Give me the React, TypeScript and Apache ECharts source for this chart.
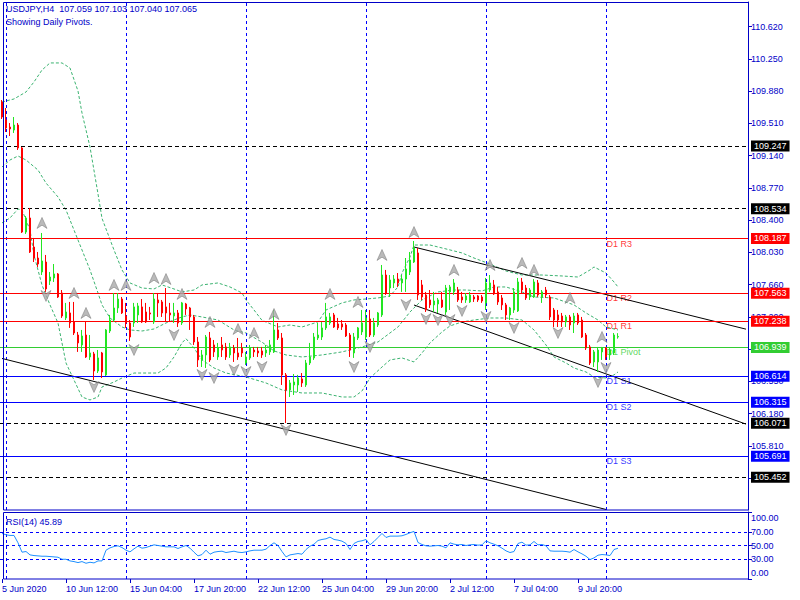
import React, { useEffect, useRef } from 'react';
import * as echarts from 'echarts';

// ---------------- data ----------------
const symbolName = 'USDJPY';
const timeframe = 'H4';

// [open, close, low, high] per H4 bar
const ohlc: number[][] = [
  [109.754, 109.582, 109.559, 109.777], [109.548, 109.456, 109.410, 109.685], [109.467, 109.445, 109.364, 109.513],
  [109.433, 109.490, 109.399, 109.582], [109.490, 109.227, 109.204, 109.513], [109.227, 108.263, 108.252, 109.238],
  [108.263, 108.424, 108.241, 108.447], [108.424, 108.034, 108.023, 108.539], [108.091, 107.965, 107.919, 108.195],
  [107.965, 107.896, 107.862, 108.034], [107.805, 107.931, 107.770, 108.252], [107.919, 107.610, 107.576, 108.000],
  [107.702, 107.747, 107.656, 107.805], [107.736, 107.782, 107.690, 107.896], [107.782, 107.518, 107.507, 107.793],
  [107.564, 107.300, 107.278, 107.598], [107.278, 107.346, 107.254, 107.450], [107.335, 107.220, 107.163, 107.461],
  [107.232, 107.105, 107.082, 107.461], [107.082, 106.991, 106.888, 107.117], [106.968, 107.071, 106.888, 107.140],
  [107.082, 106.830, 106.819, 107.232], [106.830, 106.876, 106.796, 107.082], [106.865, 106.669, 106.566, 106.888],
  [106.669, 106.819, 106.646, 106.910], [106.876, 106.658, 106.589, 106.888], [106.624, 107.140, 106.612, 107.151],
  [107.128, 107.254, 107.105, 107.312], [107.254, 107.392, 107.232, 107.564], [107.392, 107.495, 107.335, 107.564],
  [107.495, 107.335, 107.323, 107.518], [107.300, 107.220, 107.163, 107.450], [107.220, 107.059, 107.014, 107.254],
  [107.220, 107.404, 107.174, 107.450], [107.312, 107.415, 107.220, 107.450], [107.404, 107.232, 107.220, 107.495],
  [107.346, 107.232, 107.220, 107.450], [107.335, 107.323, 107.254, 107.404], [107.232, 107.495, 107.209, 107.564],
  [107.484, 107.450, 107.289, 107.564], [107.461, 107.335, 107.289, 107.484], [107.404, 107.335, 107.232, 107.621],
  [107.335, 107.312, 107.232, 107.450], [107.300, 107.335, 107.220, 107.450], [107.335, 107.220, 107.174, 107.369],
  [107.220, 107.450, 107.197, 107.461], [107.438, 107.381, 107.312, 107.450], [107.392, 107.289, 107.140, 107.404],
  [107.289, 107.002, 106.968, 107.312], [107.002, 106.796, 106.715, 107.059], [106.796, 106.853, 106.715, 106.910],
  [106.853, 107.059, 106.704, 107.082], [107.048, 106.796, 106.773, 107.117], [106.968, 106.888, 106.830, 107.025],
  [106.830, 106.933, 106.796, 106.991], [106.968, 106.910, 106.830, 107.059], [106.945, 106.830, 106.796, 106.991],
  [106.853, 106.945, 106.819, 106.991], [106.933, 106.876, 106.773, 106.968], [106.876, 106.830, 106.796, 107.048],
  [106.933, 106.876, 106.830, 106.991], [106.761, 106.830, 106.738, 106.888], [106.819, 106.933, 106.796, 106.968],
  [106.910, 106.888, 106.830, 106.945], [106.899, 106.876, 106.830, 106.945], [106.899, 106.853, 106.819, 106.945],
  [106.876, 106.910, 106.830, 106.968], [106.888, 106.968, 106.853, 107.025], [106.888, 107.140, 106.876, 107.369],
  [107.140, 107.048, 107.025, 107.220], [107.048, 106.624, 106.509, 107.105], [106.624, 106.452, 106.073, 106.646],
  [106.452, 106.532, 106.371, 106.566], [106.509, 106.543, 106.394, 106.635], [106.509, 106.589, 106.429, 106.624],
  [106.578, 106.532, 106.486, 106.646], [106.509, 106.761, 106.486, 106.796], [106.761, 106.830, 106.738, 106.991],
  [106.819, 107.059, 106.796, 107.105], [107.048, 107.082, 107.025, 107.220], [107.059, 107.163, 107.025, 107.232],
  [107.163, 107.289, 107.140, 107.450], [107.220, 107.289, 107.197, 107.335], [107.312, 107.174, 107.163, 107.335],
  [107.209, 107.163, 107.140, 107.278], [107.209, 107.174, 107.140, 107.254], [107.197, 107.071, 107.059, 107.220],
  [107.082, 106.910, 106.830, 107.105], [106.876, 107.059, 106.819, 107.105], [107.048, 107.163, 107.025, 107.174],
  [107.117, 107.220, 107.082, 107.369], [107.059, 107.278, 107.025, 107.369], [107.266, 107.082, 107.059, 107.369],
  [107.082, 107.220, 107.059, 107.278], [107.197, 107.335, 107.174, 107.346], [107.312, 107.770, 107.289, 107.885],
  [107.770, 107.564, 107.541, 107.828], [107.621, 107.713, 107.518, 107.770], [107.679, 107.724, 107.621, 107.770],
  [107.724, 107.679, 107.633, 107.793], [107.679, 107.724, 107.576, 107.770], [107.724, 107.839, 107.576, 107.965],
  [107.805, 107.942, 107.770, 108.034], [107.919, 108.080, 107.908, 108.160], [108.023, 107.541, 107.484, 108.080],
  [107.656, 107.518, 107.484, 107.713], [107.541, 107.369, 107.346, 107.576], [107.484, 107.427, 107.392, 107.598],
  [107.427, 107.472, 107.346, 107.576], [107.438, 107.484, 107.335, 107.507], [107.484, 107.404, 107.392, 107.576],
  [107.346, 107.621, 107.312, 107.656], [107.576, 107.633, 107.369, 107.656], [107.576, 107.679, 107.541, 107.724],
  [107.598, 107.484, 107.461, 107.633], [107.518, 107.484, 107.450, 107.576], [107.484, 107.530, 107.450, 107.564],
  [107.461, 107.541, 107.450, 107.576], [107.518, 107.495, 107.461, 107.541], [107.530, 107.484, 107.461, 107.541],
  [107.518, 107.472, 107.450, 107.541], [107.450, 107.679, 107.369, 107.736], [107.598, 107.679, 107.576, 107.770],
  [107.656, 107.553, 107.541, 107.713], [107.576, 107.461, 107.427, 107.633], [107.507, 107.427, 107.369, 107.541],
  [107.427, 107.312, 107.254, 107.450], [107.312, 107.392, 107.254, 107.404], [107.369, 107.576, 107.335, 107.621],
  [107.358, 107.690, 107.346, 107.736], [107.690, 107.598, 107.564, 107.736], [107.621, 107.507, 107.484, 107.656],
  [107.518, 107.598, 107.484, 107.621], [107.518, 107.690, 107.507, 107.724], [107.679, 107.541, 107.518, 107.713],
  [107.518, 107.576, 107.450, 107.598], [107.598, 107.541, 107.507, 107.633], [107.518, 107.289, 107.254, 107.541],
  [107.369, 107.254, 107.174, 107.392], [107.312, 107.254, 107.174, 107.369], [107.300, 107.232, 107.174, 107.335],
  [107.232, 107.289, 107.174, 107.312], [107.289, 107.197, 107.140, 107.312], [107.220, 107.300, 107.105, 107.335],
  [107.312, 107.220, 107.197, 107.335], [107.254, 107.059, 107.048, 107.289], [107.082, 106.933, 106.910, 107.105],
  [106.945, 106.761, 106.738, 106.968], [106.773, 106.888, 106.715, 106.910], [106.773, 106.910, 106.658, 106.945],
  [106.888, 106.933, 106.796, 106.945], [106.933, 106.830, 106.796, 106.945], [106.853, 106.910, 106.796, 106.945],
  [106.876, 107.082, 106.853, 107.105], [107.059, 107.065, 107.040, 107.103],
];

const rsiValues: number[] = [
  68, 66, 65, 65, 54, 40, 41, 36, 35, 34.5,
  34, 34, 33.5, 33, 32.5, 29.5, 29.5, 27, 26, 24.5,
  26, 23.5, 25, 24, 27, 27, 43, 46.5, 48.5, 49.5,
  47, 43, 40.5, 45, 49, 46, 47, 49, 51, 50,
  49, 48, 48, 48, 45.5, 48, 50, 46, 40, 34.5,
  36.5, 43, 37, 40, 41, 41.5, 39.5, 40.5, 41.5, 40,
  39.5, 40.5, 42, 43, 43, 43, 44.5, 50, 54, 50,
  41, 33, 36, 37, 38, 37, 44, 49, 52, 57.5,
  59, 60, 62.5, 59, 58, 56.5, 53, 44, 53, 56,
  57, 59, 51, 56, 62, 68, 62, 64, 64, 64,
  64.5, 66.5, 69, 71, 54.5, 51.5, 49.5, 49, 49.5, 50,
  49, 46.5, 54, 52, 51, 51.5, 50, 51, 51.5, 50.5,
  51, 57, 54, 52, 49.5, 46, 42, 39.5, 41, 53,
  55, 50.5, 51, 56, 51, 51.5, 49.5, 42, 41.5, 41.5,
  41.5, 41, 40, 44, 40.5, 37.5, 34, 29, 31.5, 35.5,
  36.5, 36, 35, 44, 45.89,
];

// Bollinger bands: [bar index, price]
const upperBand: number[][] = [
  [0, 109.754], [3, 109.789], [6, 109.869], [8, 109.984], [10, 110.121], [12, 110.202], [15, 110.202],
  [17, 110.144], [19, 109.880], [20, 109.628], [22, 109.238], [24, 108.700], [25, 108.420], [28, 108.057],
  [30, 107.828], [32, 107.679], [35, 107.621], [38, 107.610], [40, 107.656], [43, 107.610], [45, 107.576],
  [48, 107.598], [50, 107.656], [54, 107.679], [57, 107.633], [60, 107.564], [61, 107.484], [63, 107.369],
  [65, 107.250], [69, 107.174], [72, 107.197], [75, 107.174], [79, 107.232], [81, 107.369], [85, 107.450],
  [88, 107.484], [91, 107.495], [94, 107.507], [97, 107.530], [99, 107.633], [100, 107.793], [102, 107.977],
  [103, 108.114], [107, 108.114], [111, 108.069], [115, 108.023], [118, 107.965], [122, 107.896],
  [126, 107.816], [130, 107.770], [135, 107.770], [140, 107.759], [144, 107.747], [147, 107.828],
  [148, 107.862], [151, 107.793], [153, 107.690], [154, 107.633],
];
const middleBand: number[][] = [
  [0, 109.009], [2, 109.089], [4, 109.135], [6, 109.089], [9, 108.974], [11, 108.825], [14, 108.665],
  [16, 108.516], [18, 108.286], [20, 108.057], [22, 107.828], [24, 107.564], [25, 107.427], [27, 107.277],
  [30, 107.174], [32, 107.140], [35, 107.128], [38, 107.151], [41, 107.220], [45, 107.289], [47, 107.312],
  [50, 107.289], [54, 107.254], [56, 107.197], [58, 107.140], [61, 107.105], [65, 107.000], [68, 106.900],
  [71, 106.853], [75, 106.830], [80, 106.853], [85, 106.888], [90, 106.945], [94, 107.002], [99, 107.174],
  [102, 107.346], [105, 107.484], [109, 107.576], [113, 107.598], [116, 107.598], [120, 107.587],
  [123, 107.633], [126, 107.633], [130, 107.576], [133, 107.518], [138, 107.507], [143, 107.427],
  [146, 107.335], [149, 107.254], [151, 107.174], [154, 107.140],
];
const lowerBand: number[][] = [
  [0, 108.367], [2, 108.424], [4, 108.527], [5, 108.516], [7, 108.286], [8, 108.000], [10, 107.655],
  [12, 107.427], [14, 107.220], [15, 106.991], [16, 106.761], [18, 106.566], [20, 106.371], [22, 106.337],
  [24, 106.371], [25, 106.486], [28, 106.543], [30, 106.589], [33, 106.646], [35, 106.646], [39, 106.646],
  [41, 106.704], [43, 106.830], [45, 106.991], [46, 107.040], [48, 106.933], [50, 106.796], [53, 106.704],
  [56, 106.646], [61, 106.601], [66, 106.532], [70, 106.452], [75, 106.417], [80, 106.417], [85, 106.371],
  [88, 106.371], [90, 106.440], [92, 106.589], [95, 106.715], [97, 106.796], [100, 106.819], [103, 106.773],
  [105, 106.876], [107, 106.991], [110, 107.117], [112, 107.186], [115, 107.232], [118, 107.254],
  [122, 107.277], [126, 107.277], [130, 107.254], [133, 107.140], [136, 106.968], [138, 106.830],
  [141, 106.761], [143, 106.704], [146, 106.658], [148, 106.601], [151, 106.589], [153, 106.624], [154, 106.658],
];

// Fractal arrows: [bar index, price of the arrow]
const fractalsUp: number[][] = [
  [10, 108.367], [18, 107.564], [21, 107.335], [28, 107.656], [31, 107.656], [38, 107.736], [41, 107.724],
  [45, 107.553], [52, 107.232], [59, 107.151], [63, 107.105], [68, 107.323], [82, 107.553], [89, 107.461],
  [95, 108.000], [103, 108.263], [113, 107.828], [122, 107.885], [130, 107.908], [133, 107.828],
  [142, 107.507], [150, 107.059],
];
const fractalsDown: number[][] = [
  [11, 107.530], [23, 106.486], [33, 106.910], [43, 107.082], [50, 106.624], [53, 106.589], [58, 106.681],
  [61, 106.658], [65, 106.715], [71, 105.993], [88, 106.715], [92, 106.945], [101, 107.427], [106, 107.266],
  [109, 107.254], [112, 107.254], [115, 107.358], [121, 107.289], [128, 107.163], [139, 107.105],
  [149, 106.543], [151, 106.704],
];

const pivotLevels = [108.187, 107.563, 107.238, 106.939, 106.614, 106.315, 105.691];
const pivotNames = ['D1 R3', 'D1 R2', 'D1 R1', 'D1 Pivot', 'D1 S1', 'D1 S2', 'D1 S3'];
const pivotDayStart = 151;
const dashedLevels = [109.247, 108.534, 106.071, 105.452];

// trend lines: pairs of [bar index, price]
const trendLines: number[][][] = [
  [[0, 106.813], [151, 105.081]],
  [[103, 108.091], [186, 107.149]],
  [[103, 107.426], [186, 106.060]],
];

// price scale ticks (every 0.370); labels hidden in the reference behind the level boxes are left out
const priceTicks = [105.440, 105.810, 106.180, 106.550, 106.920, 107.290, 107.660, 108.030, 108.400, 108.770, 109.140, 109.510, 109.880, 110.250, 110.620];
const priceTickLabels = [105.810, 106.180, 106.550, 107.290, 107.660, 108.030, 108.400, 108.770, 109.140, 109.510, 109.880, 110.250, 110.620];
const priceMin = 105.075;
const priceMax = 110.901;
const rsiTicks = [0, 30, 50, 70, 100];
const rsiLevels = [30, 50, 70];
const timeLabels = ['5 Jun 2020', '10 Jun 12:00', '15 Jun 04:00', '17 Jun 20:00', '22 Jun 12:00', '25 Jun 04:00', '29 Jun 20:00', '2 Jul 12:00', '7 Jul 04:00', '9 Jul 20:00'];
const labelEvery = 16;
const gridEvery = 30;
const gridFirst = 1;
const slotCount = 187;

// ---------------- styles ----------------
const FONT = "'Liberation Sans', Arial, sans-serif";
const AXIS_BLUE = '#0000c8';
const GRID_BLUE = '#0000ff';
const BULL = '#22e622';
const BEAR = '#ff0000';
const BB = '#3cb371';
const RED = '#ff0000';
const GREEN = '#32cd32';
const BLUE = '#0000ff';

const pivotColor = (k: number) => {
  const n = pivotNames[k];
  if (n.indexOf('Pivot') >= 0) return GREEN;
  if (n.indexOf(' R') >= 0) return RED;
  return BLUE;
};

const UP_ARROW = 'path://M5 0 L10 10 L5 7 L0 10 Z';
const DOWN_ARROW = 'path://M0 0 L5 3 L10 0 L5 10 Z';

export default function App() {
  const ref = useRef<HTMLDivElement>(null);

  useEffect(() => {
    if (!ref.current) return;
    const chart = echarts.init(ref.current, null, { renderer: 'svg' });

    const cats = Array.from({ length: slotCount }, (_, i) => String(i));
    const gridIdx: number[] = [];
    for (let i = gridFirst; i < ohlc.length; i += gridEvery) gridIdx.push(i);
    const last = ohlc[ohlc.length - 1];
    const header = `${symbolName},${timeframe}  ${last[0].toFixed(3)} ${last[3].toFixed(3)} ${last[2].toFixed(3)} ${last[1].toFixed(3)}`;
    const rsiLast = rsiValues[rsiValues.length - 1];

    const showLabel = (index: number) => index % labelEvery === 0 && index / labelEvery < timeLabels.length;

    const levelItems: any[] = [
      ...dashedLevels.map((v) => ({
        yAxis: v,
        lineStyle: { color: '#000000', type: [4, 3], width: 1 },
        label: { backgroundColor: '#000000', formatter: v.toFixed(3) },
      })),
      ...pivotLevels.map((v, k) => ({
        yAxis: v,
        lineStyle: { color: pivotColor(k), type: 'solid', width: 1 },
        label: { backgroundColor: pivotColor(k), formatter: v.toFixed(3) },
      })),
    ];

    const gridLine = { color: GRID_BLUE, type: [3, 3], width: 1, opacity: 1 };

    const option: any = {
      animation: false,
      backgroundColor: '#ffffff',
      grid: [
        { left: 0, right: 52, top: 2, height: 508, containLabel: false, outerBoundsMode: 'none' },
        { left: 0, right: 52, top: 512, height: 67, containLabel: false, outerBoundsMode: 'none' },
      ],
      xAxis: [
        { type: 'category', gridIndex: 0, data: cats, boundaryGap: true, show: false },
        {
          type: 'category', gridIndex: 1, data: cats, boundaryGap: true,
          axisLine: { show: false },
          axisTick: {
            show: true, alignWithLabel: true, length: 4,
            interval: (index: number) => showLabel(index),
            lineStyle: { color: AXIS_BLUE },
          },
          axisLabel: {
            show: true,
            interval: (index: number) => showLabel(index),
            formatter: (_v: string, index: number) => (showLabel(index) ? timeLabels[index / labelEvery] : ''),
            align: 'left', margin: 5, color: AXIS_BLUE, fontSize: 9, fontFamily: FONT, hideOverlap: false,
          },
          splitLine: { show: false },
        },
      ],
      yAxis: [
        {
          type: 'value', gridIndex: 0, position: 'right', min: priceMin, max: priceMax, scale: true,
          axisLine: { show: true, lineStyle: { color: AXIS_BLUE } },
          axisTick: { show: true, customValues: priceTicks, length: 4, lineStyle: { color: AXIS_BLUE } },
          axisLabel: {
            show: true, customValues: priceTickLabels, formatter: (v: number) => v.toFixed(3),
            color: AXIS_BLUE, fontSize: 9, fontFamily: FONT, margin: 3, hideOverlap: false,
            showMinLabel: true, showMaxLabel: true,
          },
          splitLine: { show: false },
        },
        {
          type: 'value', gridIndex: 1, position: 'right', min: 0, max: 100,
          axisLine: { show: true, lineStyle: { color: AXIS_BLUE } },
          axisTick: { show: true, customValues: rsiTicks, length: 4, lineStyle: { color: AXIS_BLUE } },
          axisLabel: {
            show: true, customValues: rsiTicks,
            formatter: (v: number) => (v === 100 ? `{t|${v.toFixed(2)}}` : v === 0 ? `{b|${v.toFixed(2)}}` : v.toFixed(2)),
            rich: {
              t: { padding: [12, 0, 0, 0], color: AXIS_BLUE, fontSize: 9, fontFamily: FONT },
              b: { padding: [0, 0, 12, 0], color: AXIS_BLUE, fontSize: 9, fontFamily: FONT },
            },
            color: AXIS_BLUE, fontSize: 9, fontFamily: FONT, margin: 3, hideOverlap: false,
            showMinLabel: true, showMaxLabel: true,
          },
          splitLine: { show: false },
        },
      ],
      series: [
        {
          name: 'pivot names', type: 'scatter', xAxisIndex: 0, yAxisIndex: 0, z: 3, silent: true,
          symbolSize: 1, itemStyle: { color: 'rgba(0,0,0,0)' },
          data: pivotLevels.map((v, k) => ({ value: [pivotDayStart, v], name: pivotNames[k], label: { color: pivotColor(k) } })),
          label: { show: true, formatter: '{b}', position: [1, 1], fontSize: 9, fontFamily: FONT },
        },
        {
          name: 'BB upper', type: 'line', xAxisIndex: 0, yAxisIndex: 0, z: 4, silent: true,
          data: upperBand, symbol: 'none', lineStyle: { color: BB, width: 1, type: [3, 2] },
          markLine: {
            symbol: 'none', silent: true, label: { show: false },
            lineStyle: gridLine,
            data: gridIdx.map((i) => ({ xAxis: i })),
          },
        },
        {
          name: 'BB middle', type: 'line', xAxisIndex: 0, yAxisIndex: 0, z: 4, silent: true,
          data: middleBand, symbol: 'none', lineStyle: { color: BB, width: 1, type: [3, 2] },
          markLine: {
            symbol: 'none', silent: true, label: { show: false },
            lineStyle: { color: '#000000', type: 'solid', width: 1, opacity: 1 },
            data: trendLines.map(([a, b]) => [{ coord: a }, { coord: b }]),
          },
        },
        {
          name: 'BB lower', type: 'line', xAxisIndex: 0, yAxisIndex: 0, z: 4, silent: true,
          data: lowerBand, symbol: 'none', lineStyle: { color: BB, width: 1, type: [3, 2] },
        },
        {
          name: symbolName, type: 'candlestick', xAxisIndex: 0, yAxisIndex: 0, z: 10, silent: true,
          data: ohlc, barWidth: 2,
          itemStyle: { color: BULL, color0: BEAR, borderColor: BULL, borderColor0: BEAR, borderWidth: 1 },
          markLine: {
            symbol: 'none', silent: true,
            label: {
              show: true, position: 'end', distance: 3,
              color: '#ffffff', fontSize: 9, fontFamily: FONT, padding: [1, 3, 0, 3], lineHeight: 10,
            },
            data: levelItems,
          },
        },
        {
          name: 'fractal up', type: 'scatter', xAxisIndex: 0, yAxisIndex: 0, z: 12, silent: true,
          data: fractalsUp, symbol: UP_ARROW, symbolSize: [10, 11],
          itemStyle: { color: '#a9a9a9', borderColor: '#6e6e6e', borderWidth: 0.6 },
        },
        {
          name: 'fractal down', type: 'scatter', xAxisIndex: 0, yAxisIndex: 0, z: 12, silent: true,
          data: fractalsDown, symbol: DOWN_ARROW, symbolSize: [10, 11],
          itemStyle: { color: '#a9a9a9', borderColor: '#6e6e6e', borderWidth: 0.6 },
        },
        {
          name: 'RSI(14)', type: 'line', xAxisIndex: 1, yAxisIndex: 1, z: 6, silent: true,
          data: rsiValues, symbol: 'none', lineStyle: { color: '#1e90ff', width: 1 },
          markLine: {
            symbol: 'none', silent: true, label: { show: false },
            lineStyle: gridLine,
            data: [
              ...rsiLevels.map((v) => ({ yAxis: v })),
              ...gridIdx.map((i) => ({ xAxis: i })),
            ],
          },
        },
      ],
      graphic: [
        {
          type: 'rect', z: 100, silent: true,
          shape: { x: 3.5, y: 2.5, width: 745, height: 507.5 },
          style: { fill: 'none', stroke: AXIS_BLUE, lineWidth: 1 },
        },
        {
          type: 'rect', z: 100, silent: true,
          shape: { x: 3.5, y: 512.5, width: 745, height: 66.5 },
          style: { fill: 'none', stroke: AXIS_BLUE, lineWidth: 1 },
        },
        {
          type: 'text', left: 6, top: 4, z: 101, silent: true,
          style: { text: header, fill: AXIS_BLUE, fontSize: 9, fontFamily: FONT },
        },
        {
          type: 'text', left: 6, top: 17, z: 101, silent: true,
          style: { text: 'Showing Daily Pivots.', fill: AXIS_BLUE, fontSize: 9, fontFamily: FONT },
        },
        {
          type: 'text', left: 6, top: 517, z: 101, silent: true,
          style: { text: `RSI(14) ${rsiLast.toFixed(2)}`, fill: AXIS_BLUE, fontSize: 9, fontFamily: FONT },
        },
      ],
    };

    chart.setOption(option);
    return () => chart.dispose();
  }, []);

  return (
    <div
      ref={ref}
      style={{ position: 'fixed', left: 0, top: 0, width: 800, height: 600, background: '#ffffff' }}
    />
  );
}
